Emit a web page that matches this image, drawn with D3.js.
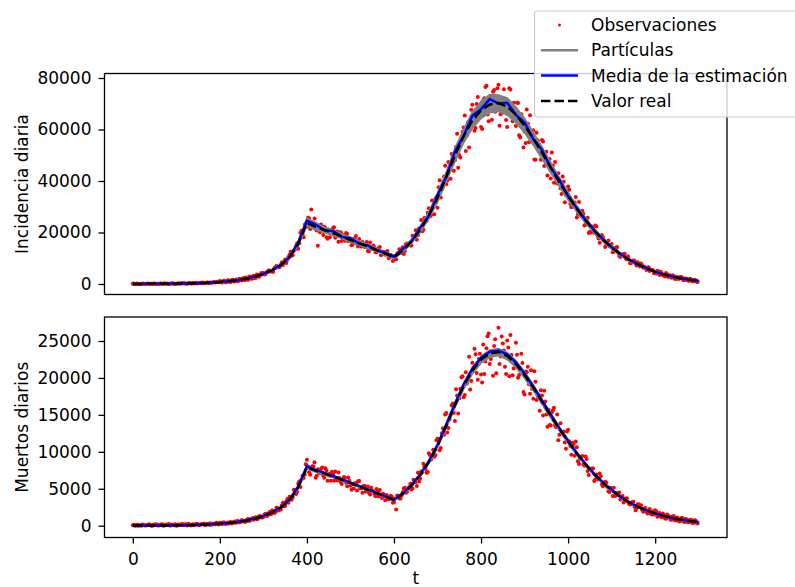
<!DOCTYPE html>
<html>
<head>
<meta charset="utf-8">
<script src="https://cdn.jsdelivr.net/npm/d3@7"></script>
<style>
  body { margin: 0; background: #fff; }
  text { font-family: "DejaVu Sans", sans-serif; }
</style>
</head>
<body>
<svg id="chart" width="795" height="587"></svg>
<script>
// time grids
var pasoReal = 20;
var tReal = d3.range(0, 1301, pasoReal);
var pasoObs = 5;
var tObs = d3.range(0, 1296, pasoObs);        // first half of the observations
var tObs2 = d3.range(2.5, 1300, pasoObs);     // second half, in between

var xTicks = [0, 200, 400, 600, 800, 1000, 1200];
var yTicksInc = [0, 20000, 40000, 60000, 80000];
var yTicksMue = [0, 5000, 10000, 15000, 20000, 25000];

// incidencia diaria
var realInc = [30,40,55,75,105,145,200,280,390,540, 750,1040,1450,2000,2800,3900,5300,7300,10300,15500,
  23800,22200,21000,19800,18500,17100,15800,14500,13200,11800, 10300,13000,16500,21000,26600,33500,41500,50000,57500,63500,
  67500,69700,70300,68900,65800,61500,56500,51000,45300,39600, 34200,29200,24700,20700,17200,14200,11600,9400,7600,6100,
  4700,3700,2850,2150,1600,1200];
var mediaInc = [40,50,60,80,110,150,210,290,400,560, 770,1070,1480,2050,2850,3950,5400,7400,10500,16200,
  24600,23100,20900,20600,18300,17800,15700,15000,13100,12200, 10600,13600,16400,21900,26500,34600,41600,51500,57500,65300,
  67900,71800,70100,70400,65700,62700,56300,52100,45200,40400, 34100,29500,24900,20900,17400,14300,11700,9500,7700,6200,
  4750,3750,2900,2200,1650,1250];
var particulaIncA = [50,60,70,90,120,160,220,300,420,580, 800,1110,1530,2120,2950,4100,5550,7700,10900,16500,
  25600,23900,22100,21000,19500,18200,16600,15500,13900,12500, 10900,13800,17400,22300,28000,35400,43600,52700,60200,66800,
  71000,73600,73400,72300,68700,64400,58900,53300,47200,41300, 35700,30400,25800,21500,17900,14800,12100,9800,7900,6350,
  4900,3850,2950,2250,1700,1300];
var particulaIncB = [25,35,45,65,95,135,185,260,365,505, 710,990,1380,1900,2660,3720,5050,6950,9800,14800,
  22500,21000,20000,18700,17700,16200,15100,13700,12600,11200, 9800,12300,15700,19900,25300,31700,39600,47500,54800,60400,
  64300,66500,67000,65600,62600,58700,53900,48600,43200,37800, 32600,27900,23600,19800,16400,13500,11100,9000,7250,5800,
  4500,3550,2700,2050,1520,1140];
var obsInc = [90,10,150,40, 0,130,60,170, 110,20,180,70, 30,200,120,60, 230,80,160,40,
  120,290,90,250, 310,130,360,180, 220,460,270,510, 560,330,620,410, 480,780,590,860,
  1150,560,1230,700, 1500,820,1650,1050, 1150,2050,1400,2350, 2550,1600,2950,2150, 2300,3700,2800,4300,
  4270,3930,4900,4900, 4790,6070,7020,6480, 7440,7360,9470,9280, 11390,10930,12900,14740, 13710,19940,19270,22980,
  22200,25420,28900,23260, 21350,14900,20140,21510, 22220,18120,21180,19720, 21700,17980,20430,18640, 16720,19010,19850,16620,
  17440,15330,17710,15670, 17460,14590,15150,15390, 12840,16090,13580,14300, 12320,13950,11190,12500, 11350,12860,10310,10780,
  10890,9610,12100,12090, 14250,12810,15740,15470, 14920,18470,20910,18920, 21400,20460,25620,24480, 29420,26690,30050,33000,
  29640,40270,36780,41770, 38720,47390,40920,49260, 48080,58350,50130,56160, 60810,51640,62820,60820, 69600,59540,69900,65860,
  61020,71310,76500,65840, 71040,63820,75380,68130, 77400,65920,69600,71910, 60960,76000,66050,70410, 61380,70320,56930,64380,
  59130,67770,55030,58310, 59750,48240,55810,51380, 55900,45780,51380,46270, 40950,45980,47350,39050, 40370,34940,39730,34530,
  37820,31050,31700,31620, 25840,31840,26440,27300, 23040,25750,20300,22320, 19900,22300,17670,18240, 18190,14400,16310,14660,
  15560,12510,13760,12140, 10480,11580,11720,9470, 9580,8180,9160,7830, 8400,6800,7330,6720, 5400,6520,5300,5340,
  4380,5170,3480,4270, 3300,4230,2750,3200, 3410,2080,2740,2050, 2710,1430,2160,1360, 2080,1100,1640,900];
var obsInc2 = [160,30,0,110, 210,20,90,0, 140,240,30,120, 190,10,260,140, 20,180,290,110,
  60,220,340,150, 90,280,180,400, 350,190,430,300, 470,380,540,620, 520,690,740,650,
  650,1150,700,1350, 850,1500,950,1750, 1200,1900,2150,1500, 1800,2850,2050,3250, 2450,3450,3300,3900,
  3670,4630,5360,4960, 4800,6530,6550,6570, 8450,8610,8140,10480, 12550,11150,13410,15840, 15800,20690,18150,23530,
  25710,21380,22290,25410, 20820,21990,23130,19020, 21780,17560,18200,20850, 22060,18650,16430,20120, 18330,16770,19410,17670,
  15040,17540,18660,14540, 15460,16330,14320,16310, 12580,14470,14920,12320, 12730,14380,11630,12110, 12520,10100,11340,8970,
  9570,11820,13460,12230, 11630,15430,15190,14990, 18770,18590,17150,21590, 24850,21040,24230,27640, 26230,32450,27100,33740,
  37590,33640,37640,45940, 40180,45190,50470,44010, 53230,45110,49170,59090, 65430,57750,53020,67660, 64000,60630,72660,68500,
  60180,72160,77000,63210, 69000,74620,66930,76000, 61490,72120,75640,63660, 66970,75500,63220,66930, 70380,57730,65940,53020,
  54740,62310,65570,55210, 48310,58710,53060,48220, 55360,49950,42130,48590, 51090,39290,41280,43010, 37190,41790,31750,36050,
  36590,29790,30380,33830, 27040,27810,28450,22720, 25290,19820,19960,22140, 22760,18730,16030,19020, 16830,15000,16870,14900,
  12320,13970,14410,10860, 11210,11500,9770,10760, 8050,9020,9020,7210, 7250,7980,6290,6350, 6400,5010,5460,4160,
  4060,4930,4720,3460, 2880,3810,3380,2460, 3060,1970,2000,2740, 2430,1560,2040,1240, 1790,1050,1590,770];

// muertos diarios
var realMue = [10,14,18,25,35,48,67,94,130,180, 250,350,485,670,940,1300,1780,2450,3450,5200,
  7900,7450,7050,6650,6200,5750,5300,4850,4400,3950, 3450,4300,5400,6800,8600,10800,13500,16300,18900,21000,
  22500,23300,23500,23000,21900,20400,18700,16800,14900,13100, 11400,9750,8300,6950,5800,4800,3900,3150,2550,2050,
  1650,1300,1000,800,620,480];
var mediaMue = [12,15,20,27,37,50,70,97,135,185, 258,360,495,690,960,1330,1820,2500,3520,5330,
  8050,7560,7150,6720,6290,5820,5370,4910,4460,4000, 3520,4380,5490,6920,8750,10950,13700,16500,19150,21250,
  22750,23550,23700,23200,22100,20600,18850,16950,15050,13200, 11500,9850,8380,7020,5860,4850,3940,3180,2580,2070,
  1670,1320,1010,810,630,490];
var particulaMueA = [11,15,19,26,36,50,69,97,134,185, 257,360,498,688,965,1335,1830,2515,3545,5360,
  8150,7620,7200,6770,6330,5860,5410,4940,4490,4030, 3530,4400,5520,6950,8790,11030,13780,16640,19290,21420,
  22970,23780,23990,23470,22350,20820,19080,17140,15200,13360, 11630,9940,8460,7090,5910,4890,3980,3210,2600,2090,
  1680,1325,1020,815,630,490];
var particulaMueB = [9,13,17,24,34,46,65,91,126,175, 243,340,472,652,915,1265,1735,2390,3365,5060,
  7690,7270,6890,6500,6060,5620,5180,4740,4300,3860, 3370,4200,5280,6650,8410,10560,13200,15940,18480,20530,
  22000,22790,22990,22500,21420,19950,18290,16430,14570,12810, 11150,9530,8110,6790,5670,4690,3810,3080,2490,2000,
  1610,1270,975,780,605,470];
var obsMue = [60,0,120,20, 0,90,30,140, 110,0,70,160, 40,150,0,110, 130,20,170,60,
  0,160,90,210, 180,20,150,60, 50,230,110,200, 240,80,260,130, 120,300,190,340,
  370,180,420,260, 280,510,360,580, 620,430,720,560, 560,890,720,1010, 1090,870,1290,1100,
  1180,1630,1390,1880, 2050,1700,2420,2050, 2200,3100,2700,3600, 3900,3500,4850,4300, 5670,5230,6750,6940,
  8930,7240,7750,8020, 6480,7640,7110,7870, 6490,7440,6780,6080, 6980,7320,6100,6440, 5640,6580,5800,6510,
  5410,5640,5750,4760, 6040,5080,5380,4620, 5290,4220,4760,4330, 4970,3990,4220,4310, 3440,3980,3630,3930,
  3170,2200,3840,3680, 4520,5120,4610,5230, 4910,6210,5920,7160, 6390,7250,8010,7170, 9800,8970,10280,9530,
  11770,10210,12510,12310, 15260,13210,15050,16540, 14180,17630,17250,20080, 17390,20780,19750,18430, 22050,23940,20660,22570,
  20480,24520,22210,25640, 21900,23350,24340,20640, 26790,22910,24650,21510, 25070,20230,23120,21290, 24750,20020,21360,22020,
  17750,20770,19160,21040, 17200,19500,17570,15550, 17640,18280,15060,15680, 13560,15610,13580,15040, 12310,12680,12740,10410,
  13000,10770,11210,9450, 10630,8360,9300,8320, 9380,7410,7700,7730, 6050,6930,6250,6700, 5340,5940,5250,4550,
  5040,5120,4130,4210, 3550,4010,3420,3710, 2960,3000,3250,2100, 2910,2650,2150,2300, 1900,2050,1600,1950,
  2100,1200,1700,1150, 1450,950,1350,850, 1200,750,1100,550, 1050,600,900,450, 800,400,750,350];
var obsMue2 = [130,20,0,90, 170,10,60,190, 0,120,200,30, 90,180,10,140, 220,40,100,190,
  20,130,240,70, 160,250,30,190, 120,260,60,170, 290,90,210,320, 150,260,380,170,
  320,430,230,390, 460,290,520,390, 610,500,690,520, 820,650,930,790, 1140,950,1300,1120,
  1510,1320,1720,1540, 2010,1830,2400,2180, 2780,2620,3290,3120, 3900,3850,4800,4600, 5970,6210,6440,8310,
  8010,6880,8040,8580, 6750,7220,7680,6790, 7770,6070,7020,7290, 6080,6340,7210,5920, 6210,6490,5330,6070,
  4880,5030,5710,6010, 5070,4450,5410,4910, 4470,5140,4670,3970, 4580,4830,3760,3970, 4150,3590,4040,3090,
  3680,4100,3670,4100, 5030,4450,5040,5670, 5030,6190,5380,5970, 7340,8390,7670,7270, 9560,9430,9320,11570,
  11390,10510,13180,15040, 12630,14390,16260,15250, 18460,15190,18520,20220, 17680,19260,22880,19600, 21420,23220,19770,23290,
  19370,20540,24010,26010, 22550,20290,25230,23480, 21890,25620,23700,20520, 24120,25820,20350,21800, 23140,20400,23270,18100,
  20860,21500,17850,18490, 20900,17000,17700,18350, 14920,16800,13380,13640, 15330,15950,13330,11570, 13880,12460,11250,12760,
  11440,9590,10940,11380, 8730,9110,9420,8110, 9020,6850,7710,7750, 6290,6380,7050,5610, 5740,5850,4670,5150,
  4020,4020,4430,4500, 3680,3140,3690,3240, 2880,3220,2550,2350, 2900,2750,1900,2400, 1650,2250,1500,1500,
  1950,1300,1250,1650, 1000,1500,1250,800, 1300,700,1000,650, 1050,500,850,450, 800,350,700,300];

var svg = d3.select("#chart");
var left = 104.5, right = 727;
var x = d3.scaleLinear().domain([-65, 1365]).range([left, right]);

function drawPanel(cfg) {
  var y = d3.scaleLinear().domain(cfg.domain).range([cfg.bottom, cfg.top]);
  var g = svg.append("g");

  g.append("clipPath").attr("id", cfg.id)
    .append("rect")
    .attr("x", left).attr("y", cfg.top)
    .attr("width", right - left).attr("height", cfg.bottom - cfg.top);

  var plot = g.append("g").attr("clip-path", "url(#" + cfg.id + ")");

  // observations: both halves
  [[cfg.obs, tObs], [cfg.obs2, tObs2]].forEach(function (par) {
    plot.append("g").selectAll("circle")
      .data(par[0])
      .enter().append("circle")
      .attr("cx", function (d, i) { return x(par[1][i]); })
      .attr("cy", function (d) { return y(d); })
      .attr("r", 2)
      .attr("fill", "#ff0000");
  });

  var line = d3.line()
    .x(function (d, i) { return x(tReal[i]); })
    .y(function (d) { return y(d); });

  // particle spread
  var banda = d3.area()
    .x(function (d, i) { return x(tReal[i]); })
    .y0(function (d, i) { return y(cfg.particulas[1][i]); })
    .y1(function (d) { return y(d); });
  plot.append("path").attr("d", banda(cfg.particulas[0]))
    .attr("fill", "#808080").attr("stroke", "#808080").attr("stroke-width", 1.5);

  plot.append("path").attr("d", line(cfg.media))
    .attr("fill", "none").attr("stroke", "#0000ff").attr("stroke-width", 2.5);

  plot.append("path").attr("d", line(cfg.real))
    .attr("fill", "none").attr("stroke", "#000").attr("stroke-width", 2.5)
    .attr("stroke-dasharray", "9.4,4.1");

  var yAxis = g.append("g")
    .attr("transform", "translate(" + left + ",0)")
    .call(d3.axisLeft(y).tickValues(cfg.yTicks).tickFormat(d3.format("d"))
      .tickSize(6).tickPadding(7));
  yAxis.select(".domain").remove();
  yAxis.attr("font-size", 17).attr("font-family", "DejaVu Sans");
  yAxis.selectAll("line").attr("stroke-width", 1.3);

  if (cfg.showX) {
    var xAxis = g.append("g")
      .attr("transform", "translate(0," + cfg.bottom + ")")
      .call(d3.axisBottom(x).tickValues(xTicks).tickFormat(d3.format("d"))
        .tickSize(6).tickPadding(9));
    xAxis.select(".domain").remove();
    xAxis.attr("font-size", 17).attr("font-family", "DejaVu Sans");
    xAxis.selectAll("line").attr("stroke-width", 1.3);
  }

  g.append("rect")
    .attr("x", left).attr("y", cfg.top)
    .attr("width", right - left).attr("height", cfg.bottom - cfg.top)
    .attr("fill", "none").attr("stroke", "#000").attr("stroke-width", 1.3);

  g.append("text")
    .attr("transform", "translate(28," + (cfg.top + cfg.bottom) / 2 + ") rotate(-90)")
    .attr("text-anchor", "middle")
    .attr("font-size", 17)
    .text(cfg.label);
}

drawPanel({
  id: "clipInc", top: 73.5, bottom: 294.5, domain: [-4080, 81750],
  yTicks: yTicksInc, obs: obsInc, obs2: obsInc2, particulas: [particulaIncA, particulaIncB],
  media: mediaInc, real: realInc, label: "Incidencia diaria", showX: false
});
drawPanel({
  id: "clipMue", top: 317, bottom: 537.5, domain: [-1600, 28250],
  yTicks: yTicksMue, obs: obsMue, obs2: obsMue2, particulas: [particulaMueA, particulaMueB],
  media: mediaMue, real: realMue, label: "Muertos diarios", showX: true
});

svg.append("text")
  .attr("x", (left + right) / 2).attr("y", 584)
  .attr("text-anchor", "middle").attr("font-size", 17)
  .text("t");

// legend
var legend = svg.append("g");
legend.append("rect")
  .attr("x", 534.5).attr("y", 11).attr("width", 280).attr("height", 106)
  .attr("rx", 3).attr("fill", "#fff").attr("fill-opacity", 0.8)
  .attr("stroke", "#cccccc").attr("stroke-width", 1.2);

var items = [
  { label: "Observaciones", tipo: "punto" },
  { label: "Partículas", color: "#808080" },
  { label: "Media de la estimación", color: "#0000ff" },
  { label: "Valor real", color: "#000", dash: "9.4,4.1" }
];
items.forEach(function (it, i) {
  var cy = 25 + i * 25.3;
  if (it.tipo === "punto") {
    legend.append("circle").attr("cx", 559.5).attr("cy", cy).attr("r", 1.5).attr("fill", "#ff0000");
  } else {
    legend.append("line")
      .attr("x1", 541).attr("x2", 578).attr("y1", cy).attr("y2", cy)
      .attr("stroke", it.color).attr("stroke-width", 2.5)
      .attr("stroke-dasharray", it.dash || null);
  }
  legend.append("text")
    .attr("x", 591).attr("y", cy).attr("dy", "0.35em")
    .attr("font-size", 17)
    .text(it.label);
});
</script>
</body>
</html>
